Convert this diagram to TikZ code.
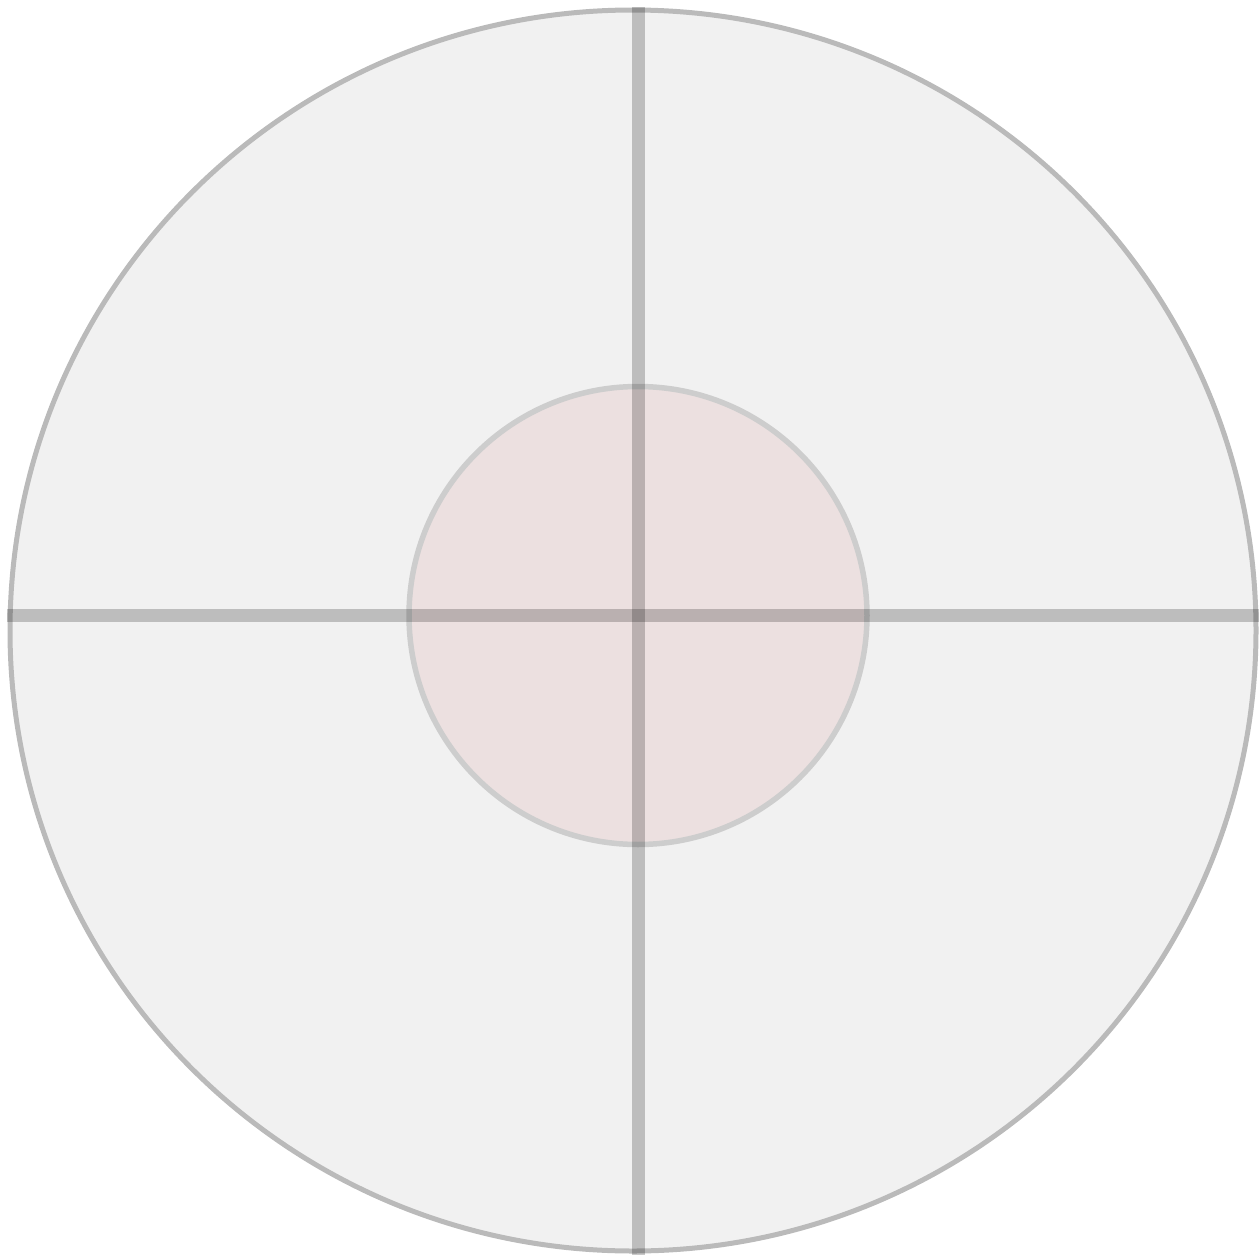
\documentclass[tikz,border=0pt]{standalone}
\begin{document}
\begin{tikzpicture}[x=1pt,y=-1pt,
  outerring/.style={fill={rgb,255:red,241;green,241;blue,241},draw={rgb,255:red,186;green,186;blue,186},line width=5pt},
  innerring/.style={fill={rgb,255:red,236;green,224;blue,224},draw={rgb,255:red,205;green,205;blue,205},line width=5.5pt},
  crossline/.style={draw=black,opacity=0.21,line width=13pt}]
\useasboundingbox (0,0) rectangle (1259,1258);
\path[outerring] (633,630.5) ellipse [x radius=623, y radius=620.5];
\path[innerring] (638,615.5) circle [radius=229];
\coordinate (top) at (638,7);
\coordinate (bottom) at (638,1255);
\coordinate (left) at (7,615.5);
\coordinate (right) at (1259,615.5);
\draw[crossline] (top) -- (bottom);
\draw[crossline] (left) -- (right);
\end{tikzpicture}
\end{document}
